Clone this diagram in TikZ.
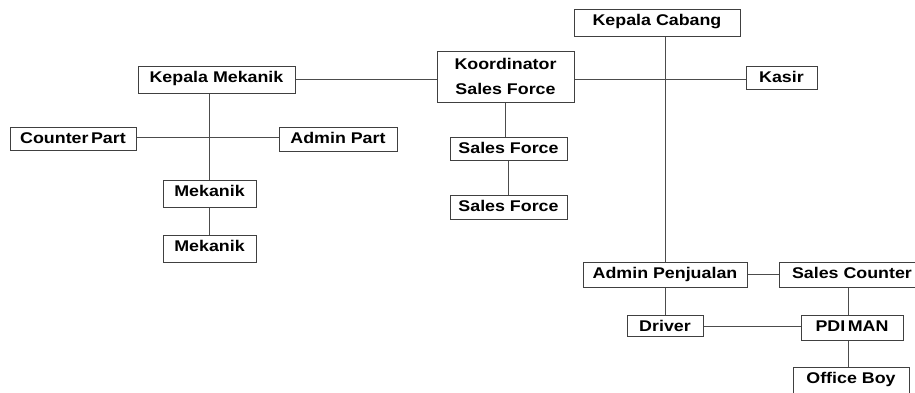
\documentclass[tikz,border=0pt]{standalone}
\usepackage{fontspec}
\newfontfamily\boxfont{Liberation Sans}[FakeStretch=1.15]
\tikzset{
  orgbox/.style={draw=black!75, line width=1pt, fill=white, inner sep=0pt,
    font=\boxfont\bfseries\fontsize{15.5}{25}\selectfont, text=black},
  link/.style={draw=black!70, line width=0.9pt}
}
\newcommand\orgnode[6]{%
  \pgfmathsetmacro\bxc{(#2+#4)/2}%
  \pgfmathsetmacro\byc{(#3+#5)/2}%
  \pgfmathsetmacro\bw{#4-#2}%
  \pgfmathsetmacro\bh{#5-#3}%
  \pgfmathsetmacro\bd{\bh-21}%
  \node[orgbox, minimum width=\bw pt, minimum height=\bh pt, text height=11pt, text depth=\bd pt] (#1) at (\bxc,\byc) {#6};%
}
\begin{document}
\begin{tikzpicture}[x=1pt,y=-1pt]
\useasboundingbox (0,0) rectangle (915,392);
\clip (0,0) rectangle (915,392);
% boxes
\orgnode{kc}{574}{9}{740}{36}{Kepala Cabang}
\node[orgbox, minimum width=137pt, minimum height=51pt, align=center] (ksf) at (505.5,76.5) {Koordinator\\Sales Force};
\orgnode{km}{138}{66}{295}{93}{Kepala Mekanik}
\orgnode{kasir}{746}{66}{817}{89}{Kasir}
\orgnode{cp}{10}{127}{136}{150}{Counter\,Part}
\orgnode{ap}{279}{127}{397}{151}{Admin Part}
\orgnode{sfa}{450}{137}{567}{160}{Sales Force}
\orgnode{sfb}{450}{195}{567}{219}{Sales Force}
\orgnode{ma}{163}{180}{256}{207}{Mekanik}
\orgnode{mb}{163}{235}{256}{262}{Mekanik}
\orgnode{apj}{583}{262}{747}{287}{Admin Penjualan}
\orgnode{sc}{779}{262}{925}{287}{Sales Counter}
\orgnode{drv}{627}{315}{703}{336}{Driver}
\orgnode{pdi}{801}{315}{903}{340}{PDI\,MAN}
\orgnode{ob}{793}{367}{909}{400}{Office Boy}
% connectors
\draw[link] (km.east |- 0,79) -- (ksf.west |- 0,79);
\draw[link] (ksf.east |- 0,79) -- (kasir.west |- 0,79);
\draw[link] (apj.north) -- (apj.north |- kc.south);
\draw[link] (ma.north) -- (ma.north |- km.south);
\draw[link] (cp.east |- 0,137.5) -- (ap.west |- 0,137.5);
\draw[link] (ma.south) -- (mb.north);
\draw[link] (ksf.south) -- (ksf.south |- sfa.north);
\draw[link] (sfa.south) -- (sfb.north);
\draw[link] (apj.east) -- (apj.east -| sc.west);
\draw[link] (apj.south) -- (drv.north);
\draw[link] (drv.east |- 0,326) -- (pdi.west |- 0,326);
\draw[link] (848,0 |- pdi.north) -- (848,0 |- sc.south);
\draw[link] (848,0 |- pdi.south) -- (848,0 |- ob.north);
\end{tikzpicture}
\end{document}
